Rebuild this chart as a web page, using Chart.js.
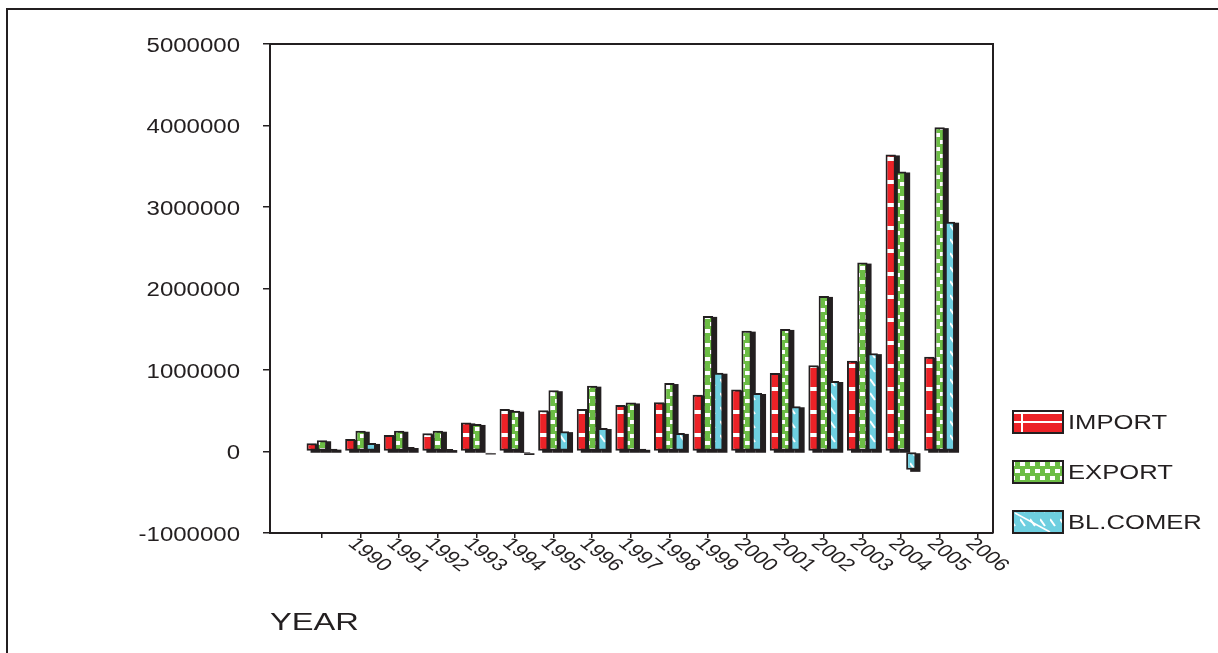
<!DOCTYPE html>
<html>
<head>
<meta charset="utf-8">
<title>IMPORT / EXPORT / BL.COMER</title>
<script src="https://cdn.jsdelivr.net/npm/chart.js@4.4.1/dist/chart.umd.min.js"></script>
<style>
  html, body { margin: 0; padding: 0; background: #fff; }
  #wrap { position: relative; width: 1218px; height: 653px; }
</style>
</head>
<body>
<div id="wrap"><canvas id="tradeChart"></canvas></div>
<script>
// tick labels along the x axis (the first tick carries no label in the original)
const tickLabels = ['', '1990', '1991', '1992', '1993', '1994', '1995', '1996', '1997',
  '1998', '1999', '2000', '2001', '2002', '2003', '2004', '2005', '2006'];

// one group of bars per tick (last tick has no bars)
const importValues = [100000, 154000, 203000, 224000, 357000, 522000, 505000, 522000, 571000,
  605000, 697000, 762000, 963000, 1057000, 1114000, 3645000, 1163000];
const exportValues = [138000, 255000, 255000, 255000, 338000, 501000, 752000, 808000, 602000,
  840000, 1664000, 1483000, 1504000, 1909000, 2318000, 3436000, 3980000];
const balanceValues = [35000, 105000, 55000, 30000, -12000, -18000, 250000, 288000, 33000,
  228000, 967000, 718000, 555000, 865000, 1207000, -225000, 2820000];

const seriesNames = ['IMPORT', 'EXPORT', 'BL.COMER'];
const yTicks = [-1000000, 0, 1000000, 2000000, 3000000, 4000000, 5000000];

const INK = '#231f20';
const FONT = '"Liberation Sans", Arial, sans-serif';

const canvas = document.getElementById('tradeChart');
const ctx = canvas.getContext('2d');

function makePattern(color, w, h, marks) {
  const tile = document.createElement('canvas');
  tile.width = w;
  tile.height = h;
  const g = tile.getContext('2d');
  g.fillStyle = color;
  g.fillRect(0, 0, w, h);
  g.fillStyle = '#fff';
  g.strokeStyle = '#fff';
  marks(g);
  return ctx.createPattern(tile, 'repeat');
}

// red with white cross stripes, green checkered, cyan with diagonal dashes
const redFill = makePattern('#ec2227', 4, 23, g => g.fillRect(0, 19, 4, 4));
const greenFill = makePattern('#6cbd45', 10, 14, g => {
  g.fillRect(0, 0, 5, 4);
  g.fillRect(5, 7, 5, 4);
});
const cyanFill = makePattern('#6ecfe0', 10, 14, g => {
  g.lineWidth = 2;
  g.beginPath();
  g.moveTo(0, 1);
  g.lineTo(5, 8);
  g.stroke();
});
const fills = [redFill, greenFill, cyanFill];
const seriesValues = [importValues, exportValues, balanceValues];

// black block behind every bar, gives the 3D look of the original
const shadowPlugin = {
  id: 'barShadow',
  beforeDatasetsDraw(chart) {
    const c = chart.ctx;
    c.save();
    c.fillStyle = INK;
    chart.data.datasets.forEach((ds, k) => {
      chart.getDatasetMeta(k).data.forEach(bar => {
        const p = bar.getProps(['x', 'y', 'base', 'width'], true);
        const top = Math.min(p.y, p.base);
        const bottom = Math.max(p.y, p.base);
        c.fillRect(p.x - p.width / 2 + 4, top + 1, p.width, bottom - top + 1);
      });
    });
    c.restore();
  }
};

function stretchedText(c, text, x, y, sx, align) {
  c.save();
  c.translate(x, y);
  c.scale(sx, 1);
  c.textAlign = align;
  c.fillText(text, 0, 0);
  c.restore();
}

const decorPlugin = {
  id: 'decor',
  afterDraw(chart) {
    const c = chart.ctx;
    const a = chart.chartArea;
    const xs = chart.scales.x;
    const ys = chart.scales.y;
    c.save();
    c.strokeStyle = INK;
    c.fillStyle = INK;
    c.lineWidth = 2;

    // outer frame
    c.beginPath();
    c.moveTo(7, 653);
    c.lineTo(7, 9);
    c.lineTo(1218, 9);
    c.stroke();

    // plot box top and right
    c.beginPath();
    c.moveTo(a.left, a.top);
    c.lineTo(a.right, a.top);
    c.lineTo(a.right, a.bottom);
    c.stroke();

    // y tick labels
    c.font = '20px ' + FONT;
    c.textBaseline = 'middle';
    ys.ticks.forEach(t => {
      stretchedText(c, String(t.value), 240, ys.getPixelForValue(t.value) + 2, 1.2, 'right');
    });

    // rotated x tick labels
    c.font = '17.5px ' + FONT;
    c.textBaseline = 'top';
    xs.ticks.forEach(t => {
      const label = tickLabels[t.value];
      if (!label) return;
      c.save();
      c.translate(xs.getPixelForValue(t.value) - 1, a.bottom + 2);
      c.scale(1.3, 1);
      c.rotate(Math.PI / 4);
      c.textAlign = 'left';
      c.fillText(label, 0, 0);
      c.restore();
    });

    // legend
    chart.data.datasets.forEach((ds, k) => {
      const top = 411 + k * 50;
      c.fillStyle = ds.backgroundColor;
      c.fillRect(1013, top, 50, 22);
      c.fillStyle = '#fff';
      if (k === 0) {
        c.fillRect(1013, top + 10, 50, 2);
        c.fillRect(1021, top, 2, 22);
      } else if (k === 2) {
        c.save();
        c.strokeStyle = '#fff';
        c.lineWidth = 1.5;
        c.beginPath();
        c.moveTo(1015, top + 2);
        c.lineTo(1050, top + 21);
        c.stroke();
        c.restore();
      }
      c.lineWidth = 2;
      c.strokeRect(1013, top, 50, 22);
      c.fillStyle = INK;
      c.font = '21px ' + FONT;
      c.textBaseline = 'middle';
      stretchedText(c, ds.label, 1068, top + 12, 1.22, 'left');
    });

    // axis title
    c.font = '24px ' + FONT;
    c.textBaseline = 'middle';
    stretchedText(c, 'YEAR', 270, 623, 1.36, 'left');
    c.restore();
  }
};

new Chart(ctx, {
  type: 'bar',
  data: {
    datasets: seriesNames.map((name, k) => ({
      label: name,
      data: seriesValues[k].map((v, i) => ({ x: i, y: v })),
      backgroundColor: fills[k],
      borderColor: INK,
      borderWidth: 2,
      borderSkipped: false,
      categoryPercentage: 0.8,
      barPercentage: 1
    }))
  },
  options: {
    responsive: true,
    maintainAspectRatio: false,
    animation: false,
    layout: { padding: { left: 0, top: 44, right: 225, bottom: 0 } },
    plugins: {
      legend: { display: false },
      tooltip: { enabled: false }
    },
    scales: {
      x: {
        type: 'linear',
        offset: false,
        min: -1.347,
        max: 17.383,
        afterBuildTicks: s => { s.ticks = tickLabels.map((t, i) => ({ value: i })); },
        afterFit: s => { s.height = 120; },
        ticks: { display: false },
        grid: { offset: false, drawOnChartArea: false, drawTicks: true, tickLength: 5, color: INK, lineWidth: 1.5 },
        border: { display: true, color: INK, width: 2 }
      },
      y: {
        min: -1000000,
        max: 5000000,
        afterBuildTicks: s => { s.ticks = yTicks.map(v => ({ value: v })); },
        afterFit: s => { s.width = 270; },
        ticks: { display: false },
        grid: { drawOnChartArea: false, drawTicks: true, tickLength: 7, color: INK, lineWidth: 1.5 },
        border: { display: true, color: INK, width: 2 }
      }
    }
  },
  plugins: [shadowPlugin, decorPlugin]
});
</script>
</body>
</html>
